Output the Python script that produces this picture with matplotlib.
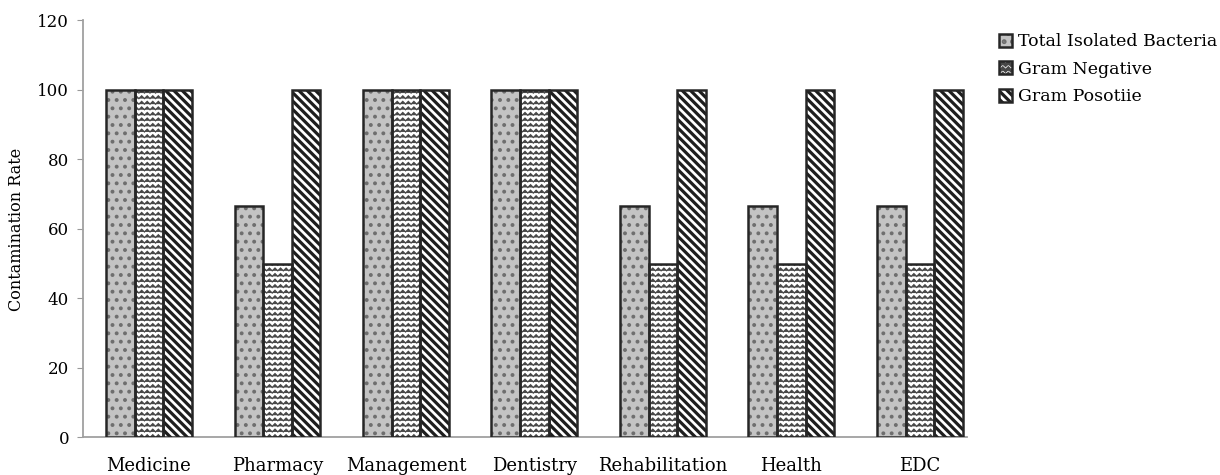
import warnings
import numpy as np
import matplotlib
matplotlib.use('Agg')
import matplotlib.pyplot as plt
import matplotlib.hatch as mhatch
from matplotlib.path import Path

warnings.filterwarnings('ignore')

categories = ['Medicine', 'Pharmacy', 'Management', 'Dentistry',
              'Rehabilitation', 'Health', 'EDC']
total_isolated = [100, 66.7, 100, 100, 66.7, 66.7, 66.7]
gram_negative = [100, 50, 100, 100, 50, 50, 50]
gram_positive = [100, 100, 100, 100, 100, 100, 100]
series_names = ['Total Isolated Bacteria', 'Gram Negative', 'Gram Posotiie']
y_ticks = [0, 20, 40, 60, 80, 100, 120]


# zigzag hatch ('z'), matplotlib has none built in
class ZigZagHatch(mhatch.HatchPatternBase):
    def __init__(self, hatch, density):
        self.rows = hatch.count('z') * density
        self.teeth = self.rows
        self.k = 2 * self.teeth + 1
        self.num_vertices = self.rows * self.k

    def set_vertices_and_codes(self, vertices, codes):
        xs = np.linspace(0, 1, self.k)
        amp = 0.25 / max(self.rows, 1)
        sgn = np.where(np.arange(self.k) % 2 == 0, -1.0, 1.0)
        i = 0
        for r in range(self.rows):
            y0 = (r + 0.5) / self.rows
            vertices[i:i + self.k, 0] = xs
            vertices[i:i + self.k, 1] = y0 + amp * sgn
            codes[i] = Path.MOVETO
            codes[i + 1:i + self.k] = Path.LINETO
            i += self.k


mhatch._hatch_types.append(ZigZagHatch)

plt.rcParams['font.family'] = ['DejaVu Serif']

fig = plt.figure(figsize=(12.2, 4.75), dpi=100)
ax = fig.add_axes([0.068, 0.079, 0.725, 0.878])

x = np.arange(len(categories))
w = 0.223
EDGE = '#262626'
# fill, hatch, hatch colour, hatch width
styles = [('#c3c3c3', '..', '#6e6e6e', 1.6),
          ('white', 'zzz', '#474747', 0.9),
          ('white', '\\\\\\\\', '#1e1e1e', 2.3)]
handles = []
for j, (vals, (fc, hatch, hc, hlw)) in enumerate(zip(
        [total_isolated, gram_negative, gram_positive], styles)):
    plt.rcParams['hatch.linewidth'] = hlw
    pos = x + (j - 1) * w
    bars = ax.bar(pos, vals, w, color=fc, edgecolor=hc, hatch=hatch,
                  linewidth=0, zorder=3)
    for b in bars:
        try:
            b.set_hatch_linewidth(hlw)
        except AttributeError:
            pass
    outline = ax.bar(pos, vals, w, fill=False, edgecolor=EDGE,
                     linewidth=1.8, zorder=4)
    handles.append((bars, outline))

ax.set_xlim(-0.514, 6.37)
ax.set_ylim(0, 120)
ax.set_yticks(y_ticks)
ax.set_yticklabels([str(v) for v in y_ticks], fontsize=12)
ax.set_xticks(x)
ax.set_xticklabels(categories, fontsize=13)
ax.tick_params(axis='x', length=0, pad=14)
ax.tick_params(axis='y', length=4, color='#999999', pad=6)
for sp in ('top', 'right'):
    ax.spines[sp].set_visible(False)
for sp in ('left', 'bottom'):
    ax.spines[sp].set_color('#a0a0a0')
    ax.spines[sp].set_linewidth(1.3)
ax.set_ylabel('Contamination Rate', fontsize=11.5, labelpad=9)

fig.legend(handles=handles, labels=series_names, loc='upper left',
           bbox_to_anchor=(0.812, 0.948), frameon=False, fontsize=12.5,
           handlelength=0.75, handleheight=0.75, handletextpad=0.3,
           labelspacing=0.6, borderpad=0)

fig.savefig('out.png', dpi=100, facecolor='white')
